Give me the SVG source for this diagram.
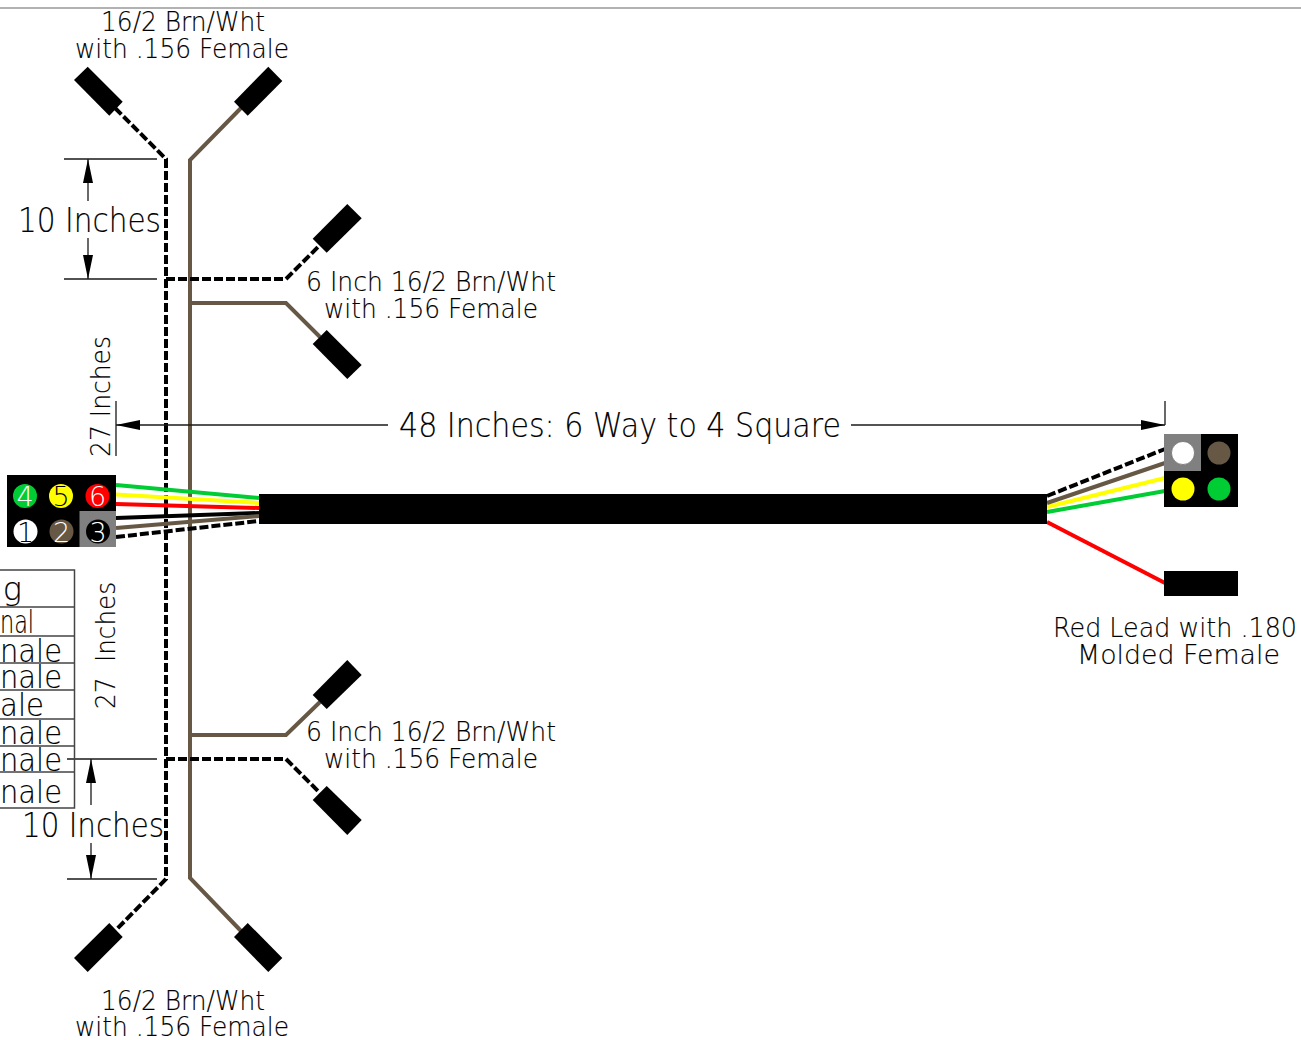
<svg xmlns="http://www.w3.org/2000/svg" width="1301" height="1040" viewBox="0 0 1301 1040">
<style>
text{font-family:"DejaVu Sans","Liberation Sans",sans-serif;font-weight:200;fill:#000;stroke:#000;stroke-width:.15}
.l{font-size:26px}.b{font-size:33px}.m{font-size:32px}.t{font-size:31px}
.p{font-size:27px;stroke:none}
.w{fill:none;stroke-width:4}
.d{fill:none;stroke:#000;stroke-width:4;stroke-dasharray:9 3}
.br{stroke:#665845}.dim{fill:none;stroke:#1a1a1a;stroke-width:1.3}
.tb{fill:none;stroke:#444;stroke-width:1.5}
.pin{stroke:#555;stroke-width:.6}
</style>
<defs>
<marker id="a" markerWidth="24" markerHeight="10" refX="24" refY="5" orient="auto-start-reverse" markerUnits="userSpaceOnUse"><path d="M0 0L24 5L0 10Z" fill="#000"/></marker>
</defs>
<rect width="1301" height="1040" fill="#fff"/>
<path d="M0 8H1301" stroke="#999" stroke-width="1.3"/>

<g id="connectors">
<path class="d" d="M115 108L166 159V879L115 931"/>
<path class="w br" d="M241 108L190 160V878L241 931"/>
<path class="d" d="M166 279H286L320 245"/>
<path class="w br" d="M190 303H286L320 337"/>
<path class="w br" d="M190 735H286L320 702"/>
<path class="d" d="M166 759H286L320 793"/>
<g class="w">
<path stroke="#00cc33" d="M116 485L259 498"/>
<path stroke="#ffff00" d="M116 494.5L259 503"/>
<path stroke="#ff0000" d="M116 504L259 508"/>
<path stroke="#000" d="M116 518L259 513"/>
<path class="br" d="M116 528L259 516"/>
<path stroke="#00cc33" d="M1047 512L1165 491"/>
<path stroke="#ffff00" d="M1047 507L1165 478"/>
<path class="br" d="M1047 503L1165 463"/>
<path stroke="#ff0000" d="M1047 522L1165 583"/>
</g>
<path class="d" d="M116 537L259 521"/>
<path class="d" d="M1047 496L1165 449"/>
</g>

<g id="dimensions">
<path class="dim" d="M64 159H157M64 279H157M67 759H157M67 879H157"/>
<path class="dim" d="M88 201V159" marker-end="url(#a)"/>
<path class="dim" d="M88 238V279" marker-end="url(#a)"/>
<path class="dim" d="M91 805V759" marker-end="url(#a)"/>
<path class="dim" d="M91 843V879" marker-end="url(#a)"/>
<path class="dim" d="M388 425H116" marker-end="url(#a)"/>
<path class="dim" d="M851 425H1165" marker-end="url(#a)"/>
<path class="dim" d="M116 401V456M1165 401V425"/>
</g>

<g id="cable"><rect x="259" y="494" width="788" height="30" fill="#000"/></g>

<g id="plug-top-left"><path d="M87.7 66.7L122.7 101.7L109.3 115.7L74 80Z"/></g>
<g id="plug-top-right"><path d="M268.3 66.7L282.3 81L247.7 115.7L234 101.7Z"/></g>
<g id="plug-upper-a"><path d="M347.3 204L361.7 218.3L326.7 252.7L312.7 238.7Z"/></g>
<g id="plug-upper-b"><path d="M347.3 379L361.7 365L326.7 330L312.7 344Z"/></g>
<g id="plug-lower-a"><path d="M347.3 660L361.7 675L326.7 709L312.7 695Z"/></g>
<g id="plug-lower-b"><path d="M347.3 835L361.7 820L326.7 786L312.7 800Z"/></g>
<g id="plug-bottom-left"><path d="M87.7 972L122.7 937L109.3 923L74 958Z"/></g>
<g id="plug-bottom-right"><path d="M268.3 972L282.3 958L247.7 923L234 937Z"/></g>

<g id="six-way">
<rect x="7" y="475" width="109" height="72" fill="#000"/>
<rect x="79.5" y="511" width="36.5" height="36" fill="#808080"/>
<circle cx="25" cy="496" r="12" fill="#00cc33"/>
<circle cx="61" cy="496" r="12" fill="#ffff00"/>
<circle cx="97.5" cy="496" r="12" fill="#ff0000"/>
<circle cx="25.500" cy="531.500" r="12" fill="#fff"/>
<circle cx="61.500" cy="531.500" r="12" fill="#665845"/>
<circle cx="98" cy="531.500" r="12" fill="#000"/>
<text class="p" x="25" y="506" text-anchor="middle" style="fill:#fff">4</text>
<text class="p" x="61" y="506" text-anchor="middle" style="fill:#000">5</text>
<text class="p" x="97.500" y="506" text-anchor="middle" style="fill:#fff">6</text>
<text class="p" x="25.500" y="541.500" text-anchor="middle" style="fill:#000">1</text>
<text class="p" x="61.500" y="541.500" text-anchor="middle" style="fill:#fff">2</text>
<text class="p" x="98" y="541.500" text-anchor="middle" style="fill:#fff">3</text>
</g>

<g id="four-square">
<rect x="1164" y="434" width="74" height="73" fill="#000"/>
<rect x="1164" y="434" width="37" height="37" fill="#808080"/>
<circle class="pin" cx="1183" cy="453" r="11.500" fill="#fff"/>
<circle cx="1219" cy="453" r="11.500" fill="#665845"/>
<circle cx="1183" cy="489" r="11.500" fill="#ffff00"/>
<circle cx="1219" cy="489" r="11.500" fill="#00cc33"/>
</g>
<g id="red-lead"><rect x="1164" y="571" width="74" height="25" fill="#000"/></g>

<g id="wiring-table">
<path class="tb" d="M0 570H74.500V808H0M0 607H74.500M0 636H74.500M0 663H74.500M0 690H74.500M0 719H74.500M0 746H74.500M0 772H74.500"/>
<text class="m" x="22" y="600" text-anchor="end">g</text>
<text class="m" x="34" y="633" text-anchor="end" textLength="34" lengthAdjust="spacingAndGlyphs">nal</text>
<text class="m" x="62" y="662" text-anchor="end" textLength="62" lengthAdjust="spacingAndGlyphs">nale</text>
<text class="m" x="62" y="688" text-anchor="end" textLength="62" lengthAdjust="spacingAndGlyphs">nale</text>
<text class="m" x="44" y="716" text-anchor="end" textLength="44" lengthAdjust="spacingAndGlyphs">ale</text>
<text class="m" x="62" y="744" text-anchor="end" textLength="62" lengthAdjust="spacingAndGlyphs">nale</text>
<text class="m" x="62" y="771" text-anchor="end" textLength="62" lengthAdjust="spacingAndGlyphs">nale</text>
<text class="m" x="62" y="803" text-anchor="end" textLength="62" lengthAdjust="spacingAndGlyphs">nale</text>
</g>

<g id="labels">
<text class="l" x="101" y="31" textLength="164" lengthAdjust="spacingAndGlyphs">16/2 Brn/Wht</text>
<text class="l" x="75" y="58" textLength="214" lengthAdjust="spacingAndGlyphs">with .156 Female</text>
<text class="l" x="306" y="291" textLength="250" lengthAdjust="spacingAndGlyphs">6 Inch 16/2 Brn/Wht</text>
<text class="l" x="324" y="318" textLength="214" lengthAdjust="spacingAndGlyphs">with .156 Female</text>
<text class="l" x="306" y="741" textLength="250" lengthAdjust="spacingAndGlyphs">6 Inch 16/2 Brn/Wht</text>
<text class="l" x="324" y="768" textLength="214" lengthAdjust="spacingAndGlyphs">with .156 Female</text>
<text class="l" x="101" y="1010" textLength="164" lengthAdjust="spacingAndGlyphs">16/2 Brn/Wht</text>
<text class="l" x="75" y="1036" textLength="214" lengthAdjust="spacingAndGlyphs">with .156 Female</text>
<text class="l" x="1053" y="637" textLength="244" lengthAdjust="spacingAndGlyphs">Red Lead with .180</text>
<text class="l" x="1077" y="664" textLength="203" lengthAdjust="spacingAndGlyphs">Molded Female</text>
<text class="b" x="18" y="232" textLength="143" lengthAdjust="spacingAndGlyphs">10 Inches</text>
<text class="b" x="22" y="837" textLength="142" lengthAdjust="spacingAndGlyphs">10 Inches</text>
<text class="b" x="399" y="437" textLength="442" lengthAdjust="spacingAndGlyphs">48 Inches: 6 Way to 4 Square</text>
<text class="l" transform="translate(110 457) rotate(-90)" textLength="121" lengthAdjust="spacingAndGlyphs">27 Inches</text>
<text class="l" transform="translate(115 709) rotate(-90)" textLength="127" lengthAdjust="spacingAndGlyphs" xml:space="preserve">27  Inches</text>
</g>
</svg>
